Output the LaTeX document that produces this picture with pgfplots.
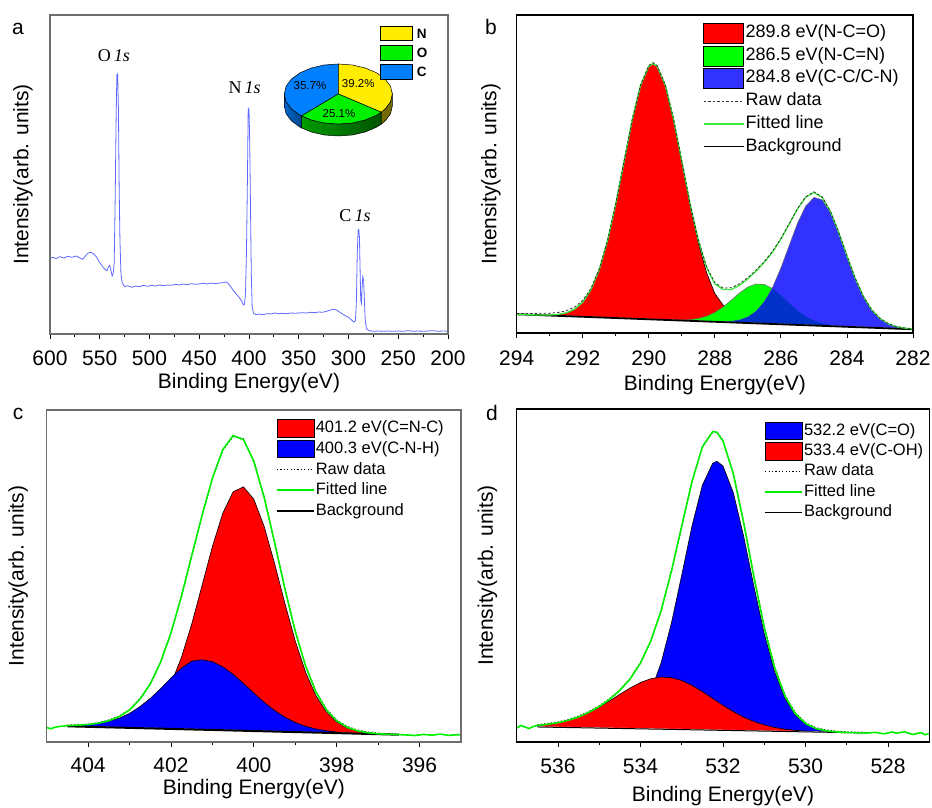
\documentclass[border=0pt]{standalone}
\usepackage{fontspec}
\setmainfont{Liberation Sans}
\newfontfamily\timesf{Liberation Serif}
\usepackage{pgfplots}
\usepackage{pgfplotstable}
\pgfplotsset{compat=1.18}

\definecolor{spec}{RGB}{95,105,255}
\definecolor{pieY}{RGB}{255,236,0}
\definecolor{pieG}{RGB}{0,240,0}
\definecolor{pieB}{RGB}{0,128,255}
\definecolor{fitB}{RGB}{60,235,60}
\definecolor{fitG}{RGB}{0,240,0}
\definecolor{blueB}{RGB}{50,50,255}
\definecolor{darkB}{RGB}{0,50,200}
\definecolor{frame}{RGB}{110,110,110}

% C1s fit, panel b (values are heights above the frame bottom)
\pgfplotstableread{
E bg red green blue ov fit raw
294 18.7 18.7 18.7 18.7 18.7 18.7 19.5
293.5 18.08 18.14 18.08 18.08 18.08 18.1 19.6
293 17.45 17.95 17.45 17.45 17.45 18.0 19.8
292.75 17.14 18.54 17.14 17.14 17.14 18.5 20.5
292.5 16.83 20.13 16.83 16.83 16.83 20.1 22.3
292.25 16.51 23.71 16.51 16.51 16.51 23.7 25.8
292 16.2 30.8 16.2 16.2 16.2 30.8 32.5
291.75 15.89 43.39 15.89 15.89 15.89 43.4 44.6
291.5 15.58 63.38 15.58 15.58 15.58 63.4 64.2
291.25 15.26 92.16 15.26 15.26 15.26 92.2 92.6
291 14.95 129.15 14.95 14.95 14.95 129.2 129.4
290.75 14.64 171.44 14.64 14.64 14.64 171.4 171.5
290.5 14.33 213.43 14.33 14.33 14.33 213.4 213.7
290.25 14.01 247.51 14.01 14.01 14.01 247.5 248
290 13.7 266.8 13.7 13.7 13.7 266.8 267.5
289.875 13.54 269.3 13.54 13.54 13.54 269.3 270.5
289.75 13.39 266.89 13.39 13.39 13.39 266.9 267.6
289.5 13.08 247.68 13.08 13.08 13.08 247.7 248.2
289.25 12.76 213.46 12.96 12.76 12.76 213.7 214
289 12.45 171.05 12.95 12.45 12.45 171.6 171.8
288.75 12.14 128.04 13.34 12.14 12.14 129.2 129.5
288.5 11.83 90.03 14.53 11.83 11.83 92.7 93.2
288.25 11.51 60.31 16.81 11.51 11.51 65.6 66.3
288 11.2 39.4 20.6 11.35 11.35 49.0 50.2
287.75 10.89 27.89 26.09 11.29 11.29 43.5 45.0
287.5 10.58 20.08 32.88 11.68 11.68 43.5 45.2
287.25 10.26 15.26 40.06 12.96 12.96 47.8 49.3
287 9.95 12.15 45.95 15.95 15.95 54.2 55.4
286.75 9.64 10.54 49.04 21.64 21.64 61.9 63.0
286.5 9.33 9.63 48.53 31.23 31.23 70.7 71.6
286.25 9.01 9.01 44.31 45.81 44.31 81.1 81.9
286 8.7 8.7 37.6 65.0 37.6 93.9 94.5
285.75 8.39 8.39 29.79 87.39 29.79 108.8 109.2
285.5 8.08 8.08 22.48 109.48 22.48 123.9 124.2
285.25 7.76 7.76 16.56 126.86 16.56 135.7 136.1
285 7.45 7.45 12.35 135.55 12.35 140.5 141.2
284.75 7.14 7.14 9.54 133.24 9.54 135.6 136.0
284.5 6.83 6.83 7.93 120.43 7.93 121.5 121.8
284.25 6.51 6.51 7.01 100.11 7.01 100.6 100.8
284 6.2 6.2 6.4 76.9 6.4 77.1 77.2
283.75 5.89 5.89 5.89 54.69 5.89 54.7 54.8
283.5 5.58 5.58 5.58 36.38 5.58 36.4 36.5
283.25 5.26 5.26 5.26 23.06 5.26 23.1 23.2
283 4.95 4.95 4.95 14.35 4.95 14.4 14.6
282.75 4.64 4.64 4.64 9.24 4.64 9.2 9.4
282.5 4.33 4.33 4.33 6.33 4.33 6.3 6.5
282.25 4.01 4.01 4.01 4.81 4.01 4.8 5.0
282 3.7 3.7 3.7 4.0 3.7 4.0 4.2
}\tabB

% N1s fit, panel c
\pgfplotstableread{
E bg red blue fit raw
404.5 15.7 15.7 16.4 16.4 16.8
404.25 15.44 15.47 16.74 16.8 17.3
404 15.18 15.26 17.38 17.5 17.9
403.75 14.91 15.14 18.61 18.8 19.3
403.5 14.65 15.25 20.65 21.3 22.0
403.25 14.39 15.89 23.89 25.4 25.9
403 14.13 17.53 28.63 32.0 32.4
402.75 13.86 21.16 35.36 42.7 43.3
402.5 13.6 28.0 43.6 58.0 58.2
402.25 13.34 39.84 53.34 79.8 80.2
402 13.08 58.18 64.08 109.2 109.0
401.75 12.81 84.31 73.81 145.3 145.9
401.5 12.55 117.85 80.85 186.2 186.0
401.25 12.29 156.49 82.29 226.5 226.8
401 12.03 195.53 80.33 263.8 263.4
400.75 11.76 228.76 75.26 292.3 291.8
400.5 11.5 250.2 67.7 306.4 305.4
400.25 11.24 255.14 58.54 302.4 303.2
400 10.98 242.78 48.98 280.8 280.2
399.75 10.71 215.41 39.71 244.4 245.0
399.5 10.45 178.55 31.55 199.7 199.0
399.25 10.19 138.49 24.79 153.1 153.8
399 9.93 100.93 19.53 110.5 111.2
398.75 9.66 69.66 15.76 75.8 76.5
398.5 9.4 46.2 13.0 49.8 50.6
398.25 9.14 30.14 11.24 32.2 33.1
398 8.88 19.98 9.98 21.1 22.0
397.75 8.61 14.11 9.21 14.7 15.6
397.5 8.35 10.85 8.65 11.2 12.0
397.25 8.09 9.19 8.19 9.3 10.0
397 7.83 8.23 7.88 8.2 8.9
396.75 7.56 7.71 7.56 7.7 8.3
396.5 7.3 7.35 7.3 7.4 7.9
}\tabC

% O1s fit, panel d
\pgfplotstableread{
E bg blue red fit raw
536.5 15.04 15.04 16.64 16.6 17.3
536.25 14.85 14.85 17.65 17.7 18.5
536 14.66 14.66 19.26 19.3 20.0
535.75 14.47 14.47 21.67 21.7 22.6
535.5 14.29 14.34 25.09 25.1 26.0
535.25 14.1 14.27 29.5 29.7 30.6
535 13.91 14.41 34.91 35.4 36.2
534.75 13.72 15.22 41.12 42.6 43.3
534.5 13.53 17.43 47.73 51.6 52.0
534.25 13.34 22.44 54.04 63.1 63.6
534 13.15 32.55 59.45 78.9 79.5
533.75 12.96 50.66 63.26 101.0 101.2
533.5 12.78 79.18 64.98 131.4 131.0
533.25 12.59 118.89 64.39 170.7 171.2
533 12.4 166.9 61.4 215.9 215.3
532.75 12.21 216.21 56.61 260.6 261.0
532.5 12.02 256.82 50.42 295.2 294.6
532.25 11.83 278.73 43.53 310.4 309.8
532.15 11.75 280.75 40.75 309.8 310.4
532 11.64 276.04 36.64 301.0 301.6
531.75 11.45 249.35 30.35 268.3 268.9
531.5 11.27 205.77 24.87 219.4 220.0
531.25 11.08 155.48 20.48 164.9 165.6
531 10.89 108.39 17.09 114.6 115.4
530.75 10.7 70.4 14.6 74.3 75.2
530.5 10.51 43.81 12.81 46.1 47.0
530.25 10.32 27.12 11.62 28.4 29.4
530 10.13 17.83 10.83 18.5 19.4
529.75 9.94 13.14 10.34 13.5 14.3
529.5 9.76 10.96 9.96 11.2 12.0
529.25 9.57 9.99 9.67 10.1 10.8
529 9.38 9.51 9.43 9.5 10.2
528.75 9.19 9.23 9.19 9.2 9.9
528.5 9.0 9.0 9.0 9.0 9.6
}\tabD

\pgfplotsset{
  xps/.style={scale only axis, x dir=reverse, ymin=0, clip=true, axis on top,
    axis line style={line width=1.1pt},
    tick align=outside, xtick pos=bottom, ytick=\empty, minor x tick num=1,
    major tick length=5pt, minor tick length=3pt,
    every tick/.style={black, line width=0.9pt},
    tick label style={font=\fontsize{21}{25}\selectfont},
    label style={font=\fontsize{21}{25}\selectfont},
    xlabel={Binding Energy(eV)}, ylabel={Intensity(arb. units)},
    /pgf/number format/assume math mode=true, /pgf/number format/1000 sep={},
    legend cell align=left},
  patchB/.style={legend image code/.code={\draw[##1] (0pt,-10pt) rectangle (40pt,10pt);}},
  lineB/.style={legend image code/.code={\draw[##1] (0pt,0pt) -- (40pt,0pt);}},
  patchC/.style={legend image code/.code={\draw[##1] (0pt,-8.8pt) rectangle (37pt,8.8pt);}},
  lineC/.style={legend image code/.code={\draw[##1] (0pt,0pt) -- (37pt,0pt);}},
  cover/.style={fill=white, draw=white, line width=1.2pt},
}
\newcommand{\lfb}{\fontsize{18}{20}\selectfont}
\newcommand{\lfc}{\fontsize{16.5}{19}\selectfont}

\begin{document}
\begin{tikzpicture}
\useasboundingbox (0pt,0pt) rectangle (932pt,808pt);

% ---------- a: survey ----------
\begin{axis}[xps, at={(50pt,474pt)}, anchor=south west, width=398pt, height=319pt,
  xmin=200, xmax=600, ymax=319, xtick={200,250,...,600},
  axis line style={frame},
  xticklabel style={anchor=center, yshift=-19.3pt},
  xlabel style={at={([yshift=-49pt]axis description cs:0.5,0)}, anchor=center},
  ylabel style={at={([xshift=-27pt]axis description cs:0,0.5)}, anchor=center}]
\addplot[spec, line width=0.8pt] coordinates {
(600,75.7) (597,76.7) (594,75.3) (590,77.3) (586,76) (582,77.7) (578,76.7) (574,78)
(570,76) (567,74.7) (565,77.3) (562,80.7) (559,81.7) (556,80) (553,76.7) (550,71.3)
(547,67.3) (545,64.7) (543,63.3) (541,67.3) (540,68.7) (539,64.7) (537.5,58) (536.5,60.7)
(535.5,70.7) (534.5,134) (533.5,217.3) (532.8,259) (532,260) (531.2,224) (530.5,147.3)
(529.7,94) (528.7,60.7) (527.5,51.3) (525,47.3) (522,48.3) (518,46.7) (514,48) (510,47.3)
(506,48.7) (502,47.7) (498,48.7) (494,48) (490,49) (486,48.3) (482,49) (478,48.7) (474,49.7)
(470,49) (466,50) (462,49.3) (458,50.3) (454,49.7) (450,50) (446,50.7) (442,50) (438,51)
(434,50.3) (430,51) (426,51.3) (423,52) (421,50.7) (418,46.7) (414,41.3) (410,36.7)
(407,32.3) (405.5,29) (404.5,30) (403.5,40.7) (402.5,84) (401.5,160.7) (400.8,225.7)
(400,224) (399.3,194) (398.5,127.3) (397.7,60.7) (396.8,27.3) (395.5,20.7) (393,19.3)
(390,20) (386,19.3) (382,20.3) (378,20) (374,21) (370,20.3) (366,20.7) (362,20.3) (358,21)
(354,20.7) (350,21) (346,21.3) (342,21) (338,21.7) (334,21.3) (330,22) (326,21.7)
(322,22.7) (318,24) (315,24.7) (312,24) (308,21.3) (304,18.7) (300,16.7) (297,14)
(294.5,12) (293,13.3) (292,34) (291.2,80.7) (290.3,104) (289.7,104.7) (289,96.7)
(288.4,67.3) (287.7,34) (287,30.7) (286.3,47.3) (285.6,57.3) (284.8,54) (284,34)
(283.2,14) (282,5.7) (280.5,4) (278,3) (274,2.7) (270,3) (265,2.7) (260,3) (255,2.7)
(250,3) (245,2.7) (240,3.3) (235,2.7) (230,3) (225,2.7) (220,3) (215,3.3) (210,2.7)
(205,3) (200,2.7)};
\end{axis}

% ---------- b: C 1s ----------
\begin{axis}[xps, at={(516.7pt,475pt)}, anchor=south west, width=396.3pt, height=318pt,
  xmin=282, xmax=294, ymax=318, xtick={282,284,...,294},
  xticklabel style={anchor=center, yshift=-20.3pt},
  xlabel style={at={([yshift=-52pt]axis description cs:0.5,0)}, anchor=center},
  ylabel style={at={([xshift=-25.7pt]axis description cs:0,0.5)}, anchor=center},
  legend style={at={(axis description cs:0.469,0.977)}, anchor=north west, draw=none,
    fill=none, inner sep=0pt, row sep=1.7pt, font=\lfb,
    nodes={inner sep=1pt, text height=14pt, text depth=5pt},
    /tikz/every even column/.append style={column sep=4pt}}]
\addlegendimage{patchB, fill=red, draw=black}
\addlegendentry{\lfb 289.8 eV(N-C=O)}
\addlegendimage{patchB, fill=green, draw=black}
\addlegendentry{\lfb 286.5 eV(N-C=N)}
\addlegendimage{patchB, fill=blueB, draw=black}
\addlegendentry{\lfb 284.8 eV(C-C/C-N)}
\addlegendimage{lineB, black!80, dash pattern=on 2.5pt off 2pt, line width=0.8pt}
\addlegendentry{\lfb Raw data}
\addlegendimage{lineB, fitB, line width=1.6pt}
\addlegendentry{\lfb Fitted line}
\addlegendimage{lineB, black, line width=1.8pt}
\addlegendentry{\lfb Background}
\addplot[fill=red, draw=none] table[x=E,y=red]{\tabB} \closedcycle;
\addplot[black, line width=0.6pt] table[x=E,y=red]{\tabB};
\addplot[fill=green, draw=none] table[x=E,y=green]{\tabB} \closedcycle;
\addplot[black!60, line width=0.5pt] table[x=E,y=green]{\tabB};
\addplot[fill=blueB, draw=none] table[x=E,y=blue]{\tabB} \closedcycle;
\addplot[black!60, line width=0.5pt] table[x=E,y=blue]{\tabB};
\addplot[fill=darkB, draw=none] table[x=E,y=ov]{\tabB} \closedcycle;
\addplot[cover] table[x=E,y=bg]{\tabB} \closedcycle;
\addplot[black, line width=1.8pt] table[x=E,y=bg]{\tabB};
\addplot[fitB, line width=1.3pt] table[x=E,y=fit]{\tabB};
\addplot[black!80, dash pattern=on 2.5pt off 2pt, line width=0.8pt] table[x=E,y=raw]{\tabB};
\end{axis}

% ---------- c: N 1s ----------
\begin{axis}[xps, at={(46.7pt,66pt)}, anchor=south west, width=414.3pt, height=332pt,
  xmin=395, xmax=405, ymax=332, xtick={396,398,...,404},
  axis line style={frame},
  xticklabel style={anchor=center, yshift=-18.4pt},
  xlabel style={at={([yshift=-47pt]axis description cs:0.5,0)}, anchor=center},
  ylabel style={at={([xshift=-28.4pt]axis description cs:0,0.5)}, anchor=center},
  legend style={at={(axis description cs:0.5535,0.976)}, anchor=north west, draw=none,
    fill=none, inner sep=0pt, row sep=0.7pt, font=\lfc,
    nodes={inner sep=1pt, text height=13.5pt, text depth=4.5pt},
    /tikz/every even column/.append style={column sep=4pt}}]
\addlegendimage{patchC, fill=red, draw=black}
\addlegendentry{\lfc 401.2 eV(C=N-C)}
\addlegendimage{patchC, fill=blue, draw=black}
\addlegendentry{\lfc 400.3 eV(C-N-H)}
\addlegendimage{lineC, black, dash pattern=on 1.2pt off 2.2pt, line width=1pt}
\addlegendentry{\lfc Raw data}
\addlegendimage{lineC, fitG, line width=1.6pt}
\addlegendentry{\lfc Fitted line}
\addlegendimage{lineC, black, line width=1.6pt}
\addlegendentry{\lfc Background}
\addplot[fill=red, draw=none] table[x=E,y=red]{\tabC} \closedcycle;
\addplot[black, line width=0.6pt] table[x=E,y=red]{\tabC};
\addplot[fill=blue, draw=none] table[x=E,y=blue]{\tabC} \closedcycle;
\addplot[black, line width=0.6pt] table[x=E,y=blue]{\tabC};
\addplot[cover] table[x=E,y=bg]{\tabC} \closedcycle;
\addplot[black, line width=2pt] table[x=E,y=bg]{\tabC};
\addplot[black, dash pattern=on 1.2pt off 2.2pt, line width=1pt] table[x=E,y=raw]{\tabC};
\addplot[fitG, line width=1.6pt] coordinates {
(405,14.5) (404.9,13.2) (404.8,14.8) (404.7,15.5) (404.6,15.9)
(404.5,16.4) (404.25,16.8) (404,17.5) (403.75,18.8) (403.5,21.3) (403.25,25.4)
(403,32.0) (402.75,42.7) (402.5,58.0) (402.25,79.8) (402,109.2) (401.75,145.3)
(401.5,186.2) (401.25,226.5) (401,263.8) (400.75,292.3) (400.5,306.4) (400.25,302.4)
(400,280.8) (399.75,244.4) (399.5,199.7) (399.25,153.1) (399,110.5) (398.75,75.8)
(398.5,49.8) (398.25,32.2) (398,21.1) (397.75,14.7) (397.5,11.2) (397.25,9.3)
(397,8.2) (396.75,7.7) (396.5,7.4) (396.3,7.0) (396.1,6.5) (395.9,7.6) (395.7,6.8)
(395.5,7.9) (395.3,6.6) (395.1,7.3) (395,7.0)};
\end{axis}

% ---------- d: O 1s ----------
\begin{axis}[xps, at={(516.7pt,66pt)}, anchor=south west, width=412.6pt, height=333pt,
  xmin=527, xmax=537, ymax=333, xtick={528,530,...,536},
  xticklabel style={anchor=center, yshift=-19.7pt},
  xlabel style={at={([yshift=-54pt]axis description cs:0.5,0)}, anchor=center},
  ylabel style={at={([xshift=-29.2pt]axis description cs:0,0.5)}, anchor=center},
  legend style={at={(axis description cs:0.600,0.9656)}, anchor=north west, draw=none,
    fill=none, inner sep=0pt, row sep=0.4pt, font=\lfc,
    nodes={inner sep=1pt, text height=13.5pt, text depth=4.5pt},
    /tikz/every even column/.append style={column sep=4pt}}]
\addlegendimage{patchC, fill=blue, draw=black}
\addlegendentry{\lfc 532.2 eV(C=O)}
\addlegendimage{patchC, fill=red, draw=black}
\addlegendentry{\lfc 533.4 eV(C-OH)}
\addlegendimage{lineC, black, dash pattern=on 1.2pt off 2.2pt, line width=1pt}
\addlegendentry{\lfc Raw data}
\addlegendimage{lineC, fitG, line width=1.6pt}
\addlegendentry{\lfc Fitted line}
\addlegendimage{lineC, black, line width=0.8pt}
\addlegendentry{\lfc Background}
\addplot[fill=blue, draw=none] table[x=E,y=blue]{\tabD} \closedcycle;
\addplot[black, line width=0.6pt] table[x=E,y=blue]{\tabD};
\addplot[fill=red, draw=none] table[x=E,y=red]{\tabD} \closedcycle;
\addplot[black, line width=0.6pt] table[x=E,y=red]{\tabD};
\addplot[cover] table[x=E,y=bg]{\tabD} \closedcycle;
\addplot[black, line width=1pt] table[x=E,y=bg]{\tabD};
\addplot[black, dash pattern=on 1.2pt off 2.2pt, line width=1pt] table[x=E,y=raw]{\tabD};
\addplot[fitG, line width=1.6pt] coordinates {
(537,14.0) (536.9,16.5) (536.8,15.0) (536.7,13.5) (536.6,15.5)
(536.5,16.6) (536.25,17.7) (536,19.3) (535.75,21.7) (535.5,25.1) (535.25,29.7)
(535,35.4) (534.75,42.6) (534.5,51.6) (534.25,63.1) (534,78.9) (533.75,101.0)
(533.5,131.4) (533.25,170.7) (533,215.9) (532.75,260.6) (532.5,295.2) (532.25,310.4)
(532.15,309.8) (532,301.0) (531.75,268.3) (531.5,219.4) (531.25,164.9) (531,114.6)
(530.75,74.3) (530.5,46.1) (530.25,28.4) (530,18.5) (529.75,13.5) (529.5,11.2)
(529.25,10.1) (529,9.5) (528.75,9.2) (528.5,9.0) (528.3,9.6) (528.1,8.2) (527.9,10.0)
(527.8,8.8) (527.6,10.2) (527.4,7.5) (527.2,9.4) (527.1,7.2) (527,8.5)};
\end{axis}

% ---------- inset pie (pixel coordinates, y downward) ----------
\begin{axis}[at={(0pt,0pt)}, anchor=south west, scale only axis, width=932pt, height=808pt,
  xmin=0, xmax=932, ymin=0, ymax=808, y dir=reverse, hide axis, clip=false]
\addplot[draw=black, line width=0.5pt, fill=pieY!45!black] coordinates {
(392.3,94) (390.5,101.8) (385.1,109) (381.2,112.2) (381.2,124.2) (385.1,121) (390.5,113.8) (392.3,106)} -- cycle;
\addplot[draw=black, line width=0.5pt, left color=pieG!65!black, right color=pieG!35!black] coordinates {
(381.2,112.2) (376.5,115.2) (365.3,120) (352.3,123) (338.3,124) (324.3,123) (311.3,120) (301.5,115.9)
(301.5,127.9) (311.3,132) (324.3,135) (338.3,136) (352.3,135) (365.3,132) (376.5,127.2) (381.2,124.2)} -- cycle;
\addplot[draw=black, line width=0.5pt, left color=pieB!80!black, right color=pieB!55!black] coordinates {
(301.5,115.9) (300.1,115.2) (291.5,109) (286.1,101.8) (284.3,94) (284.3,106) (286.1,113.8) (291.5,121)
(300.1,127.2) (301.5,127.9)} -- cycle;
\addplot[draw=black, line width=0.5pt, fill=pieB] coordinates {
(338.3,94) (301.5,115.9) (300.1,115.2) (291.5,109) (286.1,101.8) (284.3,94) (286.1,86.2) (291.5,79)
(300.1,72.8) (311.3,68) (324.3,65) (338.3,64)} -- cycle;
\addplot[draw=black, line width=0.5pt, fill=pieY] coordinates {
(338.3,94) (338.3,64) (352.3,65) (365.3,68) (376.5,72.8) (385.1,79) (390.5,86.2) (392.3,94)
(390.5,101.8) (385.1,109) (381.2,112.2)} -- cycle;
\addplot[draw=black, line width=0.5pt, fill=pieG] coordinates {
(338.3,94) (381.2,112.2) (376.5,115.2) (365.3,120) (352.3,123) (338.3,124) (324.3,123) (311.3,120)
(301.5,115.9)} -- cycle;
\addplot[draw=black, line width=0.6pt, fill=pieY] coordinates {(380,26.7) (412.3,26.7) (412.3,40.7) (380,40.7)} -- cycle;
\addplot[draw=black, line width=0.6pt, fill=pieG] coordinates {(380,45.7) (412.3,45.7) (412.3,60.7) (380,60.7)} -- cycle;
\addplot[draw=black, line width=0.6pt, fill=pieB] coordinates {(380,64.5) (412.3,64.5) (412.3,79.3) (380,79.3)} -- cycle;
\end{axis}

% ---------- text ----------
\begin{scope}[every node/.style={font=\fontsize{11.5}{13}\selectfont, inner sep=0pt}]
\node at (310pt,722pt) {35.7\%};
\node at (358.3pt,724.7pt) {39.2\%};
\node at (339pt,694pt) {25.1\%};
\end{scope}
\begin{scope}[every node/.style={font=\fontsize{13.5}{15}\selectfont\bfseries, inner sep=0pt, anchor=west}]
\node at (416.7pt,774.3pt) {N};
\node at (416.7pt,754.8pt) {O};
\node at (416.7pt,736.3pt) {C};
\end{scope}
\begin{scope}[every node/.style={font=\fontsize{18}{20}\selectfont\timesf, inner sep=0pt}]
\node at (114pt,752pt) {O\,{\itshape 1s}};
\node at (244.7pt,720pt) {N\,{\itshape 1s}};
\node at (355pt,592pt) {C\,{\itshape 1s}};
\end{scope}
\begin{scope}[every node/.style={font=\fontsize{21}{24}\selectfont, inner sep=0pt}]
\node at (18pt,779pt) {a};
\node at (491pt,780.5pt) {b};
\node at (18pt,394pt) {c};
\node at (492pt,395pt) {d};
\end{scope}
\end{tikzpicture}
\end{document}
